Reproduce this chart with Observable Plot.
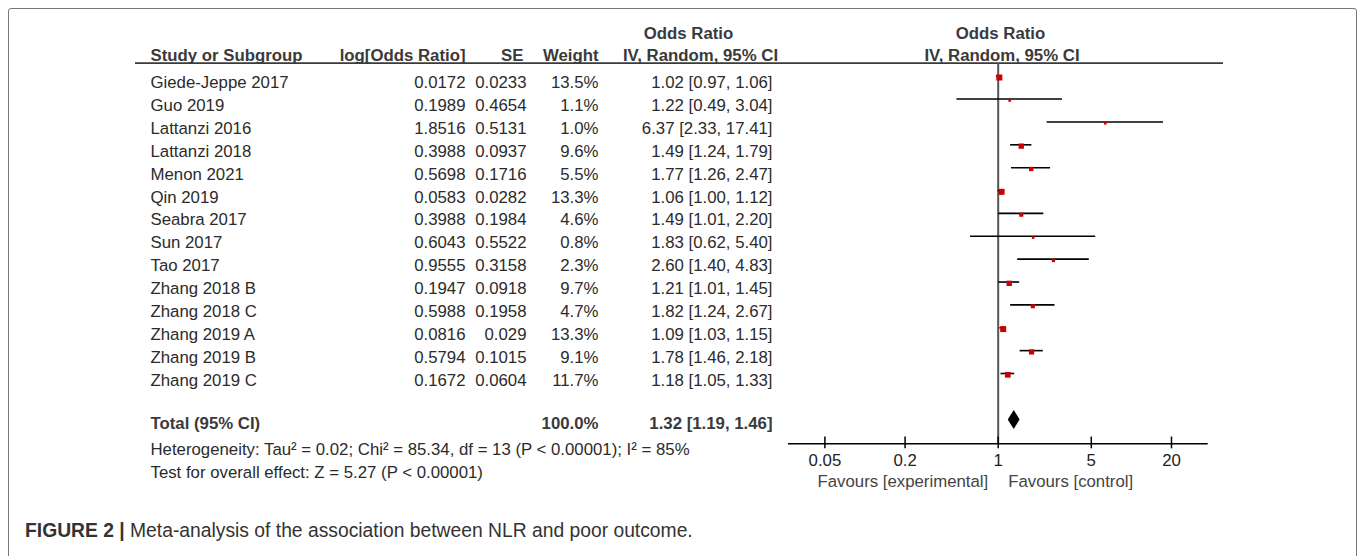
<!DOCTYPE html>
<html>
<head>
<meta charset="utf-8">
<script src="https://cdn.jsdelivr.net/npm/d3@7"></script>
<script src="https://cdn.jsdelivr.net/npm/@observablehq/plot@0.6"></script>
<style>
  html, body { margin: 0; padding: 0; background: #fff; overflow: hidden; }
  #wrap { position: relative; width: 1357px; height: 556px; overflow: hidden;
          font-family: "Liberation Sans", Arial, sans-serif; }
  #frame { position: absolute; left: 8px; top: 8px; width: 1349px; height: 620px;
           box-sizing: border-box; border: 1px solid #777; border-radius: 3px; }
  #table, #forest { position: absolute; left: 0; top: 0; }
  #caption { position: absolute; left: 25px; top: 521px; font-size: 19.3px; line-height: 20px;
             color: #333; white-space: nowrap;
             font-family: "Liberation Sans", Arial, sans-serif; }
  #caption b { font-weight: bold; }
</style>
</head>
<body>
<div id="wrap">
  <div id="frame"></div>
  <div id="table"></div>
  <div id="forest"></div>
  <div id="caption"><b>FIGURE 2 |</b> Meta-analysis of the association between NLR and poor outcome.</div>
</div>
<script>
// ---------- data ----------
const studies = ["Giede-Jeppe 2017", "Guo 2019", "Lattanzi 2016", "Lattanzi 2018", "Menon 2021", "Qin 2019",
  "Seabra 2017", "Sun 2017", "Tao 2017", "Zhang 2018 B", "Zhang 2018 C", "Zhang 2019 A", "Zhang 2019 B", "Zhang 2019 C"];
const logOR = [0.0172, 0.1989, 1.8516, 0.3988, 0.5698, 0.0583, 0.3988, 0.6043, 0.9555, 0.1947, 0.5988, 0.0816, 0.5794, 0.1672];
const seVals = [0.0233, 0.4654, 0.5131, 0.0937, 0.1716, 0.0282, 0.1984, 0.5522, 0.3158, 0.0918, 0.1958, 0.029, 0.1015, 0.0604];
const weights = [13.5, 1.1, 1.0, 9.6, 5.5, 13.3, 4.6, 0.8, 2.3, 9.7, 4.7, 13.3, 9.1, 11.7];
const oddsRatio = [1.02, 1.22, 6.37, 1.49, 1.77, 1.06, 1.49, 1.83, 2.60, 1.21, 1.82, 1.09, 1.78, 1.18];
const ciLow = [0.97, 0.49, 2.33, 1.24, 1.26, 1.00, 1.01, 0.62, 1.40, 1.01, 1.24, 1.03, 1.46, 1.05];
const ciHigh = [1.06, 3.04, 17.41, 1.79, 2.47, 1.12, 2.20, 5.40, 4.83, 1.45, 2.67, 1.15, 2.18, 1.33];

const totalLabel = "Total (95% CI)";
const totalWeight = 100.0;
const totalOR = 1.32, totalLow = 1.19, totalHigh = 1.46;
const heterogeneityText = "Heterogeneity: Tau\u00B2 = 0.02; Chi\u00B2 = 85.34, df = 13 (P < 0.00001); I\u00B2 = 85%";
const overallText = "Test for overall effect: Z = 5.27 (P < 0.00001)";

const headersTop = ["Odds Ratio", "Odds Ratio"];
const headersBottom = ["Study or Subgroup", "log[Odds Ratio]", "SE", "Weight", "IV, Random, 95% CI", "IV, Random, 95% CI"];
const xTicks = [0.05, 0.2, 1, 5, 20];
const favoursLeft = "Favours [experimental]";
const favoursRight = "Favours [control]";

// ---------- layout (positions/styles) ----------
const COL = {study: 150, logor: 465, se: 526, seHead: 523, weight: 598, ci: 772,
             orHead: 688, ivHead: 700, plotHead: 1000, plotIvHead: 1001.5, lineStart: 135, lineEnd: 1223};
const ROW = {head1: -2.16, head2: -1.19, line: -1.093, total: 14.9, het: 16.05, test: 17.05};
const FROW = {top: -0.57, axis: 16.07, diamond: 15.03, diamondHalf: 0.415, favours: 17.95, tickUp: 0.29};
const X_DOMAIN = [0.02665, 37.73];
const X_RANGE = [788, 1207.7];
const FONT = "'Liberation Sans', Arial, sans-serif";
const FS = "16.8px";
const TEXT = "#2b2b2b", HEAD = "#3a3a3a";

const fmt2 = v => v.toFixed(2);
const rows = studies.map((s, i) => ({
  i, study: s, logor: String(logOR[i]), se: String(seVals[i]), weight: weights[i].toFixed(1) + "%",
  ci: `${fmt2(oddsRatio[i])} [${fmt2(ciLow[i])}, ${fmt2(ciHigh[i])}]`,
  or: oddsRatio[i], lo: ciLow[i], hi: ciHigh[i], w: weights[i]
}));

const txt = (data, opts) => Plot.text(data, {lineAnchor: "bottom", fill: TEXT, ...opts});

// ---------- table ----------
const headTop = [
  {t: headersTop[0], x: COL.orHead},
  {t: headersTop[1], x: COL.plotHead}
];
const headBottom = [
  {t: headersBottom[0], x: COL.study, a: "start"},
  {t: headersBottom[1], x: COL.logor, a: "end"},
  {t: headersBottom[2], x: COL.seHead, a: "end"},
  {t: headersBottom[3], x: COL.weight, a: "end"},
  {t: headersBottom[4], x: COL.ivHead, a: "middle"},
  {t: headersBottom[5], x: COL.plotIvHead, a: "middle"}
];
const totalRow = [
  {t: totalLabel, x: COL.study, a: "start"},
  {t: totalWeight.toFixed(1) + "%", x: COL.weight, a: "end"},
  {t: `${fmt2(totalOR)} [${fmt2(totalLow)}, ${fmt2(totalHigh)}]`, x: COL.ci, a: "end"}
];
const byAnchor = (arr, a) => arr.filter(d => d.a === a);

const table = Plot.plot({
  width: 1357, height: 556, margin: 0,
  style: {fontFamily: FONT, fontSize: FS, color: TEXT, background: "transparent", overflow: "visible"},
  x: {type: "identity", axis: null},
  y: {domain: [0, 13], range: [87.7, 385], axis: null},
  marks: [
    Plot.ruleY([ROW.line], {x1: COL.lineStart, x2: COL.lineEnd, stroke: HEAD, strokeWidth: 1.8}),
    txt(headTop, {x: "x", y: ROW.head1, text: "t", textAnchor: "middle", fontWeight: "bold", fill: HEAD}),
    ...["start", "end", "middle"].map(a =>
      txt(byAnchor(headBottom, a), {x: "x", y: ROW.head2, text: "t", textAnchor: a, fontWeight: "bold", fill: HEAD})),
    txt(rows, {x: COL.study, y: "i", text: "study", textAnchor: "start"}),
    txt(rows, {x: COL.logor, y: "i", text: "logor", textAnchor: "end"}),
    txt(rows, {x: COL.se, y: "i", text: "se", textAnchor: "end"}),
    txt(rows, {x: COL.weight, y: "i", text: "weight", textAnchor: "end"}),
    txt(rows, {x: COL.ci, y: "i", text: "ci", textAnchor: "end"}),
    ...["start", "end"].map(a =>
      txt(byAnchor(totalRow, a), {x: "x", y: ROW.total, text: "t", textAnchor: a, fontWeight: "bold", fill: HEAD})),
    txt([heterogeneityText], {x: COL.study, y: ROW.het, text: d => d, textAnchor: "start"}),
    txt([overallText], {x: COL.study, y: ROW.test, text: d => d, textAnchor: "start"})
  ]
});
document.getElementById("table").appendChild(table);

// ---------- forest ----------
const diamond = [
  {x: totalLow, y1: FROW.diamond, y2: FROW.diamond},
  {x: totalOR, y1: FROW.diamond - FROW.diamondHalf, y2: FROW.diamond + FROW.diamondHalf},
  {x: totalHigh, y1: FROW.diamond, y2: FROW.diamond}
];

const forest = Plot.plot({
  width: 1357, height: 556, marginTop: 0, marginLeft: 0, marginRight: 0, marginBottom: 556 - 443.3,
  style: {fontFamily: FONT, fontSize: FS, color: "#222", background: "transparent", overflow: "visible"},
  x: {type: "log", domain: X_DOMAIN, range: X_RANGE, label: null},
  y: {domain: [0, 13], range: [75.7, 373], axis: null},
  r: {type: "sqrt", domain: [0, 13.5], range: [0.8, 3.4]},
  marks: [
    Plot.ruleX([1], {y1: FROW.top, y2: FROW.axis, stroke: "#555", strokeWidth: 2}),
    Plot.ruleY(rows, {y: "i", x1: "lo", x2: "hi", stroke: "#000", strokeWidth: 1.6}),
    Plot.dot(rows, {x: "or", y: "i", r: "w", symbol: "square", fill: "#cc0000", stroke: null, dy: 1.3}),
    Plot.areaY(diamond, {x: "x", y1: "y1", y2: "y2", fill: "#000"}),
    Plot.ruleY([FROW.axis], {x1: X_DOMAIN[0], x2: X_DOMAIN[1], stroke: "#000", strokeWidth: 1.5}),
    Plot.ruleX(xTicks, {y1: FROW.axis - FROW.tickUp, y2: FROW.axis, stroke: "#000", strokeWidth: 1.5}),
    Plot.axisX({ticks: xTicks, text: d => String(d), tickSize: 5, tickPadding: 5.5,
                stroke: "#000", strokeWidth: 1.5, fill: "#222", label: null}),
    Plot.text([1], {x: d => d, y: FROW.favours, text: () => favoursLeft, textAnchor: "end", lineAnchor: "bottom", dx: -10, fill: "#444"}),
    Plot.text([1], {x: d => d, y: FROW.favours, text: () => favoursRight, textAnchor: "start", lineAnchor: "bottom", dx: 10, fill: "#444"})
  ]
});
document.getElementById("forest").appendChild(forest);
</script>
</body>
</html>
